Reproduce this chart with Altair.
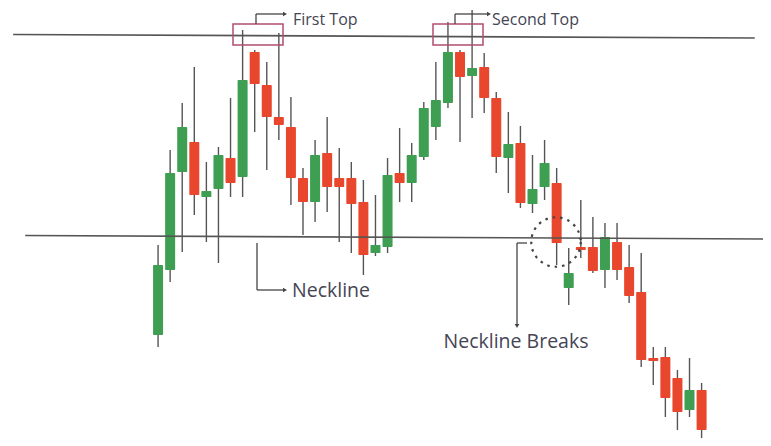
import altair as alt
import pandas as pd

# Candle data (price units)
idx = list(range(46))
opens = [111, 176, 274, 304, 249, 257, 288, 269, 394, 361, 329, 319, 268, 244, 293, 268, 268, 244, 193, 199,
         273, 263, 289, 319, 343, 394, 370, 379, 348, 288, 303, 242, 259, 263, 158, 199, 199, 176, 204, 179,
         154, 88, 89, 68, 36, 56]
highs = [201, 296, 343, 379, 284, 299, 348, 416, 396, 384, 413, 349, 278, 306, 329, 298, 284, 266, 251, 288,
         318, 303, 344, 384, 424, 396, 436, 393, 354, 334, 320, 291, 306, 278, 198, 246, 229, 223, 223, 201,
         193, 99, 99, 76, 88, 63]
lows = [99, 164, 194, 231, 204, 183, 249, 249, 314, 276, 306, 241, 211, 224, 234, 204, 193, 171, 190, 193,
        244, 244, 286, 306, 338, 304, 328, 333, 273, 253, 238, 233, 246, 181, 141, 188, 173, 158, 166, 143,
        79, 61, 29, 16, 29, 6]
closes = [181, 273, 319, 251, 255, 291, 263, 366, 362, 329, 321, 268, 244, 291, 259, 259, 242, 191, 201, 271,
          263, 291, 338, 346, 394, 369, 378, 348, 289, 302, 243, 257, 283, 203, 173, 196, 175, 209, 176, 150,
          86, 85, 48, 34, 56, 16]

# Resistance / neckline levels (start, end) in price units and index span
level_names = ["Resistance", "Neckline"]
level_x1 = [-12.0, -11.0]
level_x2 = [49.4, 50.4]
level_y1 = [411.5, 210.5]
level_y2 = [408.0, 207.0]

df = pd.DataFrame({"i": idx, "open": opens, "high": highs, "low": lows, "close": closes})
df["dir"] = ["up" if c >= o else "down" for o, c in zip(opens, closes)]
lv = pd.DataFrame({"name": level_names, "x1": level_x1, "x2": level_x2, "y1": level_y1, "y2": level_y2})

xs = alt.Scale(domain=[-12.01, 49.67], nice=False, zero=False)
ys = alt.Scale(domain=[8, 438], nice=False, zero=False)
X = alt.X("i:Q", scale=xs, axis=None)

base = alt.Chart(df)
wicks = base.mark_rule(color="#555555", strokeWidth=1.4).encode(
    x=X, y=alt.Y("low:Q", scale=ys, axis=None), y2="high:Q")
bodies = base.mark_bar(size=10, cornerRadius=1).encode(
    x=X, y=alt.Y("open:Q", scale=ys, axis=None), y2="close:Q",
    color=alt.Color("dir:N", scale=alt.Scale(domain=["up", "down"], range=["#3e9e52", "#e8472d"]), legend=None))

levels = alt.Chart(lv).mark_rule(color="#555555", strokeWidth=1.6).encode(
    x=alt.X("x1:Q", scale=xs, axis=None), x2="x2:Q",
    y=alt.Y("y1:Q", scale=ys, axis=None), y2="y2:Q")

LINE = "#444444"
TXT = "#454554"
BOX = "#b24d6e"

def seg(x1, y1, x2, y2, color=LINE, w=1.3):
    return alt.Chart(pd.DataFrame({"a": [0]})).mark_rule(color=color, strokeWidth=w).encode(
        x=alt.value(x1), y=alt.value(y1), x2=alt.value(x2), y2=alt.value(y2))

def box(x1, y1, x2, y2):
    return alt.Chart(pd.DataFrame({"a": [0]})).mark_rect(fill=None, fillOpacity=0, stroke=BOX, strokeWidth=1.5).encode(
        x=alt.value(x1), y=alt.value(y1), x2=alt.value(x2), y2=alt.value(y2))

def arrow(x, y, shape):
    return alt.Chart(pd.DataFrame({"a": [0]})).mark_point(shape=shape, filled=True, color=LINE, size=22, opacity=1).encode(
        x=alt.value(x), y=alt.value(y))

def label(x, y, t, size, align="left", baseline="middle"):
    return alt.Chart(pd.DataFrame({"a": [0]})).mark_text(
        text=t, font="Open Sans", fontSize=size, color=TXT, align=align, baseline=baseline).encode(
        x=alt.value(x), y=alt.value(y))

circle = alt.Chart(pd.DataFrame({"a": [0]})).mark_point(
    shape="circle", size=2450, color="#444444", strokeWidth=2.2, strokeDash=[2.5, 5], filled=False, opacity=1).encode(
    x=alt.value(548), y=alt.value(234))

annots = [
    box(225, 16, 275, 37), box(425, 16, 475, 37),
    seg(248, 16, 248, 6), seg(248, 6, 275, 6), arrow(277, 6, "triangle-right"),
    label(285, 17, "First Top", 16, baseline="alphabetic"),
    seg(447, 16, 447, 6), seg(447, 6, 479, 6), arrow(481, 6, "triangle-right"),
    label(484, 17, "Second Top", 16, baseline="alphabetic"),
    seg(249, 235, 249, 282), seg(249, 282, 275, 282), arrow(277, 282, "triangle-right"),
    label(284, 283, "Neckline", 19.5),
    seg(509, 235, 519, 235), seg(509, 235, 509, 316), arrow(509, 318, "triangle-down"),
    label(508, 334, "Neckline Breaks", 19.5, "center"),
    circle,
]

chart = alt.layer(wicks, bodies, levels, *annots).properties(
    width=755, height=430, padding=0, autosize=alt.AutoSizeParams(type="none"),
    background="white"
).configure_view(stroke=None)

chart.save("out.html", embed_options={"renderer": "svg", "actions": False})
